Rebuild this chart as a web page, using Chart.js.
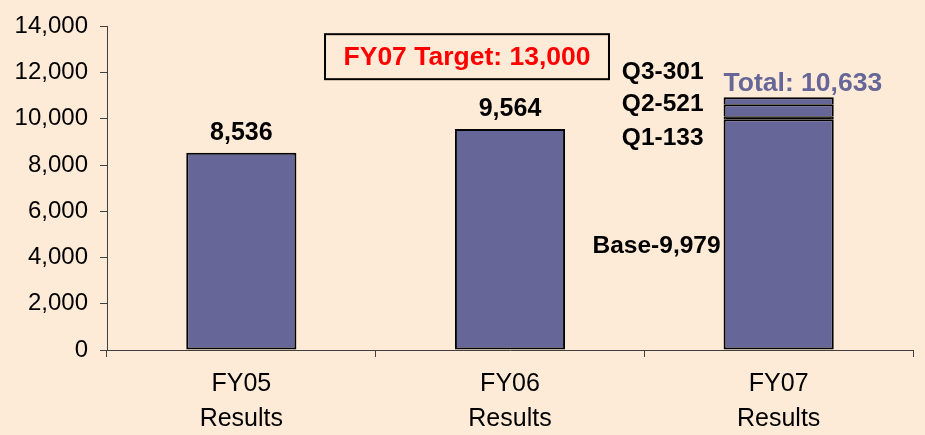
<!DOCTYPE html>
<html>
<head>
<meta charset="utf-8">
<script src="https://cdn.jsdelivr.net/npm/chart.js@4"></script>
<style>
    html, body { margin: 0; padding: 0; background: #FEEBD7; }
    #wrap { width: 925px; height: 435px; }
</style>
</head>
<body>
<div id="wrap"><canvas id="chart"></canvas></div>
<script>
// ------------------------------------------
// Dados do gráfico
// ------------------------------------------
const categories = [['FY05', 'Results'], ['FY06', 'Results'], ['FY07', 'Results']];
const baseValues = [8536, 9564, 9979];
const q1Values = [null, null, 133];
const q2Values = [null, null, 521];
const q3Values = [null, null, 301];
const barLabels = ['8,536', '9,564', null];
const yTickValues = [0, 2000, 4000, 6000, 8000, 10000, 12000, 14000];
const targetText = 'FY07 Target: 13,000';
const totalText = 'Total: 10,633';
const quarterNotes = ['Q3-301', 'Q2-521', 'Q1-133'];
const baseNote = 'Base-9,979';

const BG = '#FEEBD7';
const BAR = '#666699';
const FONT = "'Liberation Sans', Arial, sans-serif";

// ------------------------------------------
// Plugin: fundo + textos anotados
// ------------------------------------------
const annotations = {
    id: 'annotations',
    beforeDraw(chart) {
        const { ctx, width, height } = chart;
        ctx.save();
        ctx.fillStyle = BG;
        ctx.fillRect(0, 0, width, height);
        ctx.restore();
    },
    afterDatasetsDraw(chart) {
        const { ctx, scales: { x, y } } = chart;
        const meta = chart.getDatasetMeta(0);
        ctx.save();
        ctx.font = `bold 25px ${FONT}`;
        ctx.fillStyle = '#000';

        // valores acima das barras
        ctx.textAlign = 'center';
        ctx.textBaseline = 'bottom';
        barLabels.forEach((txt, i) => {
            if (!txt) return;
            const el = meta.data[i];
            ctx.fillText(txt, el.x, el.y - 7);
        });

        // notas do FY07
        const bar = meta.data[2];
        const left = bar.x - bar.width / 2;
        ctx.font = `bold 24.5px ${FONT}`;
        ctx.textAlign = 'right';
        ctx.textBaseline = 'middle';
        const noteVals = [12030, 10620, 9180];
        quarterNotes.forEach((txt, i) => {
            ctx.fillText(txt, left - 20, y.getPixelForValue(noteVals[i]));
        });
        ctx.fillText(baseNote, left - 3, y.getPixelForValue(4500));

        // total
        ctx.font = `bold 26.5px ${FONT}`;
        ctx.fillStyle = BAR;
        ctx.textAlign = 'left';
        ctx.fillText(totalText, left, y.getPixelForValue(11520));

        // caixa da meta
        const cx = x.getPixelForValue(1) - 43;
        const cy = y.getPixelForValue(12690);
        const w = ctx.measureText(targetText).width + 37;
        const h = 45;
        ctx.fillStyle = BG;
        ctx.fillRect(cx - w / 2, cy - h / 2, w, h);
        ctx.strokeStyle = '#000';
        ctx.lineWidth = 2;
        ctx.strokeRect(cx - w / 2, cy - h / 2, w, h);
        ctx.fillStyle = '#FF0000';
        ctx.textAlign = 'center';
        ctx.fillText(targetText, cx, cy + 1);
        ctx.restore();
    }
};

// segmentos empilhados: só o de baixo tem borda inferior
const segment = (label, data, fill, bottom) => ({
    label,
    data,
    backgroundColor: fill,
    borderColor: '#000',
    borderWidth: { top: 2, left: 2, right: 2, bottom: bottom },
    borderSkipped: false,
    barPercentage: 0.41,
    categoryPercentage: 1
});

new Chart(document.getElementById('chart'), {
    type: 'bar',
    data: {
        labels: categories,
        datasets: [
            segment('Base', baseValues, BAR, 2),
            segment('Q1', q1Values, '#000', 0),
            segment('Q2', q2Values, BAR, 0),
            segment('Q3', q3Values, BAR, 0)
        ]
    },
    options: {
        responsive: true,
        maintainAspectRatio: false,
        animation: false,
        layout: { padding: { top: 23, right: 12, left: 0, bottom: 0 } },
        plugins: {
            legend: { display: false },
            tooltip: { enabled: false }
        },
        scales: {
            x: {
                stacked: true,
                afterFit: s => { s.height = 85; },
                grid: {
                    drawOnChartArea: false,
                    drawTicks: true,
                    tickLength: 7,
                    color: '#404040',
                    offset: true
                },
                border: { color: '#404040', width: 1 },
                ticks: {
                    color: '#000',
                    padding: 10,
                    maxRotation: 0,
                    font: { family: FONT, size: 25, lineHeight: 1.4 }
                }
            },
            y: {
                stacked: true,
                min: 0,
                max: 14000,
                afterFit: s => { s.width = 107; },
                afterBuildTicks: s => { s.ticks = yTickValues.map(v => ({ value: v })); },
                grid: {
                    drawOnChartArea: false,
                    drawTicks: true,
                    tickLength: 7,
                    color: '#404040'
                },
                border: { color: '#404040', width: 1 },
                ticks: {
                    color: '#000',
                    padding: 12,
                    font: { family: FONT, size: 24 },
                    callback: v => v.toLocaleString('en-US')
                }
            }
        }
    },
    plugins: [annotations]
});
</script>
</body>
</html>
